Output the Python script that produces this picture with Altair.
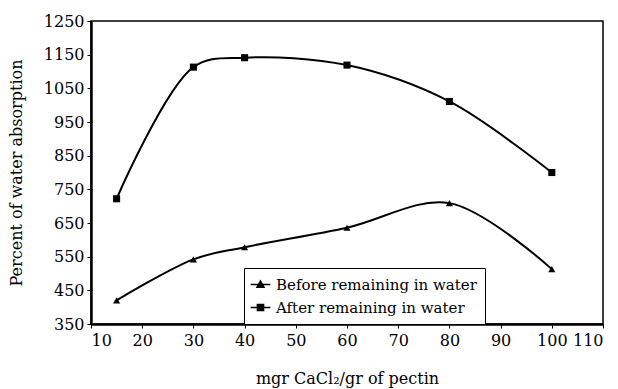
import altair as alt
import pandas as pd

x_vals = [15, 30, 40, 60, 80, 100]
before = [420, 542, 578, 636, 709, 513]
after = [722, 1113, 1141, 1119, 1011, 800]
series_names = ["Before remaining in water", "After remaining in water"]

rows = []
for x, b, a in zip(x_vals, before, after):
    rows.append({"x": x, "y": b, "series": series_names[0]})
    rows.append({"x": x, "y": a, "series": series_names[1]})
df = pd.DataFrame(rows)

FONT = "DejaVu Serif"

xaxis = alt.Axis(values=list(range(10, 111, 10)), title="mgr CaCl₂/gr of pectin",
                 titlePadding=22, labelPadding=4, labelOverlap=False, format="d")
yaxis = alt.Axis(values=list(range(350, 1251, 100)), title="Percent of water absorption",
                 titleX=-67, labelPadding=3, labelOverlap=False, format="d")
xscale = alt.Scale(domain=[10, 110], nice=False)
yscale = alt.Scale(domain=[350, 1250], nice=False)

def xenc():
    return alt.X("x:Q", scale=xscale, axis=xaxis)

def yenc():
    return alt.Y("y:Q", scale=yscale, axis=yaxis)

lines = alt.Chart(df).mark_line(interpolate="catmull-rom", color="black", strokeWidth=2).encode(
    x=xenc(), y=yenc(), detail="series:N")

shape_scale = alt.Scale(domain=series_names, range=["triangle-up", "square"])

points = alt.Chart(df).mark_point(filled=True, color="black", size=50, opacity=1).encode(
    x=xenc(), y=yenc(),
    shape=alt.Shape("series:N", scale=shape_scale, legend=None))

# legend glyphs: a short line with a solid marker (marker filled by stroked hatching)
legend_paths = [
    "M-1.3,0H1.3M-0.45,0.35L0,-0.45L0.45,0.35Z"
    "M-0.11,-0.25H0.11M-0.22,-0.1H0.22M-0.34,0.15H0.34M-0.4,0.27H0.4",
    "M-1.3,0H1.3M-0.4,-0.4H0.4V0.4H-0.4Z"
    "M-0.4,-0.2H0.4M-0.4,0.2H0.4",
]
legend_layer = alt.Chart(df).mark_point(filled=False, color="black", opacity=0).encode(
    x=xenc(), y=yenc(),
    shape=alt.Shape("series:N",
                    scale=alt.Scale(domain=series_names, range=legend_paths),
                    legend=alt.Legend(title=None, orient="none", legendX=153, legendY=247,
                                      symbolOpacity=1, symbolFillColor="black",
                                      symbolStrokeColor="black", symbolStrokeWidth=1.6,
                                      symbolSize=230, labelFont=FONT, labelFontSize=15,
                                      labelColor="black", labelLimit=400, strokeColor="black",
                                      fillColor="white", padding=8, rowPadding=6,
                                      labelOffset=7)))

chart = alt.layer(lines, points, legend_layer).resolve_scale(shape="independent").properties(
    width=512, height=303,
    background="white",
    autosize=alt.AutoSizeParams(type="none"),
    padding={"left": 91, "top": 21, "right": 15, "bottom": 65},
).configure_view(stroke="black", strokeWidth=1.5).configure_axis(
    grid=False, domainColor="black", domainWidth=2.5, tickColor="black", tickSize=4,
    labelOverlap=False,
    labelFont=FONT, labelFontSize=16, labelColor="black",
    titleFont=FONT, titleFontSize=16, titleFontWeight="normal", titleColor="black",
)

chart.save("out.html", embed_options={"renderer": "svg", "actions": False})
